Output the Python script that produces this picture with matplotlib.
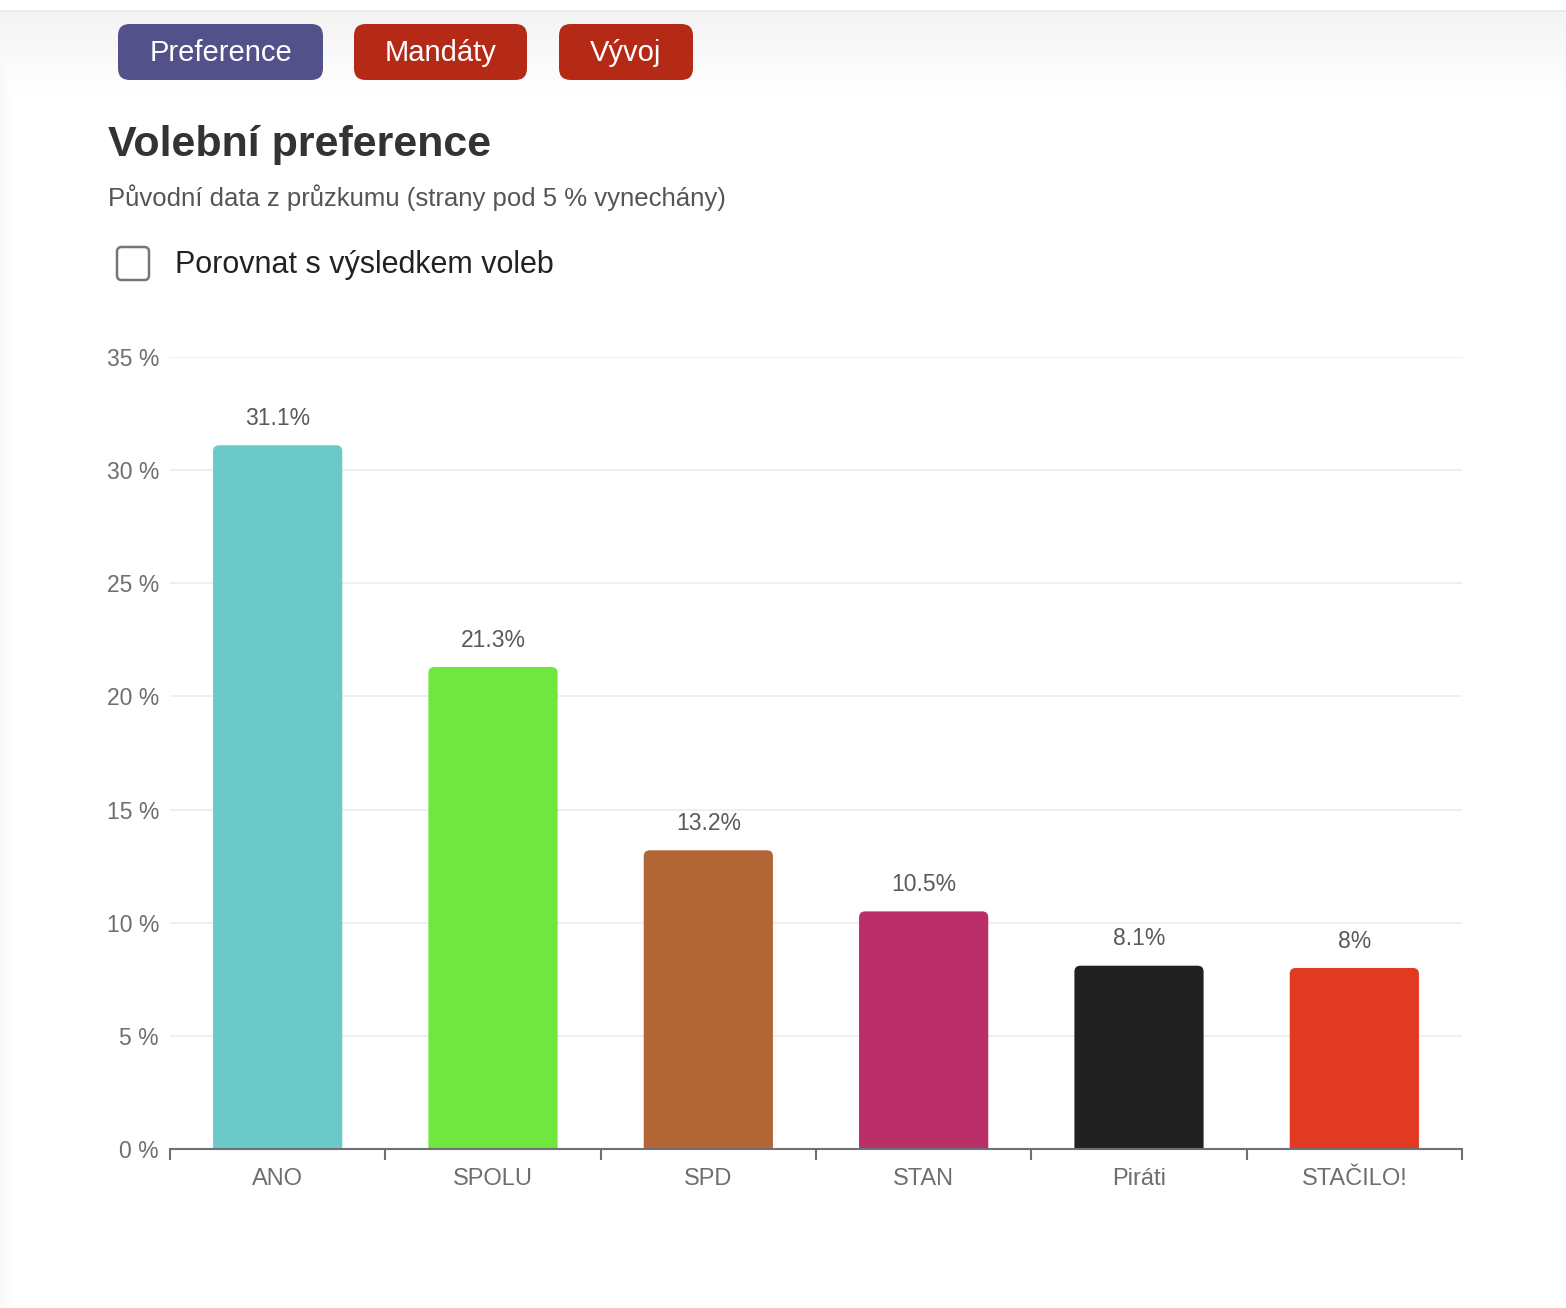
import matplotlib
matplotlib.use('Agg')
import matplotlib.pyplot as plt
import numpy as np
from matplotlib.patches import FancyBboxPatch

# Data
parties = ['ANO', 'SPOLU', 'SPD', 'STAN', 'Piráti', 'STAČILO!']
values = [31.1, 21.3, 13.2, 10.5, 8.1, 8.0]
value_labels = ['31.1%', '21.3%', '13.2%', '10.5%', '8.1%', '8%']
bar_colors = ['#6cc9c9', '#70e63e', '#b26535', '#bb2f68', '#212121', '#e03a22']
y_ticks = [0, 5, 10, 15, 20, 25, 30, 35]
y_tick_labels = [f'{t} %' for t in y_ticks]

buttons = ['Preference', 'Mandáty', 'Vývoj']
button_colors = ['#535189', '#b52a17', '#b52a17']

plt.rcParams['font.family'] = ['Liberation Sans', 'DejaVu Sans']

W, H = 1566, 1308
fig = plt.figure(figsize=(W / 100, H / 100), dpi=100)
fig.patch.set_facecolor('white')

# page background: soft gray gradient at the top and left edge
bg = fig.add_axes([0, 0, 1, 1], zorder=-10)
bg.set_axis_off()
yy = np.arange(H)[:, None]
xx = np.arange(W)[None, :]
top = np.clip((yy - 12) / 80.0, 0, 1)
left = np.clip(xx / 12.0, 0, 1) * 0.5 + 0.5
shade = np.where(yy < 11, 1.0, np.minimum(top, left))
gray = 0.955 + 0.045 * shade
img = np.dstack([gray, gray, gray])
img[10:12, :, :] = 0.925
bg.imshow(img, extent=[0, 1, 0, 1], aspect='auto', interpolation='bilinear')

def px(x, y):
    return x / W, 1 - y / H

# Buttons
btn_boxes = [(118, 323), (354, 527), (559, 693)]
for (x0, x1), lab, col in zip(btn_boxes, buttons, button_colors):
    bx, by = px(x0, 80)
    fig.patches.append(FancyBboxPatch((bx, by), (x1 - x0) / W, 56 / H,
                                      boxstyle='round,pad=0,rounding_size=0.0075',
                                      mutation_aspect=W / H,
                                      transform=fig.transFigure, facecolor=col,
                                      edgecolor='none', zorder=2))
    tx, ty = px((x0 + x1) / 2, 53)
    fig.text(tx, ty, lab, color='white', fontsize=21, ha='center', va='center', zorder=3)

# Title and subtitle
fig.text(*px(108, 145), 'Volební preference', fontsize=31, fontweight='bold',
         color='#333333', ha='left', va='center')
fig.text(*px(108, 198), 'Původní data z průzkumu (strany pod 5 % vynechány)',
         fontsize=18.5, color='#555555', ha='left', va='center')

# Checkbox
cx, cy = px(117, 280)
fig.patches.append(FancyBboxPatch((cx, cy), 32 / W, 33 / H,
                                  boxstyle='round,pad=0,rounding_size=0.003',
                                  mutation_aspect=W / H,
                                  transform=fig.transFigure, facecolor='white',
                                  edgecolor='#767676', linewidth=1.8, zorder=2))
fig.text(*px(175, 265), 'Porovnat s výsledkem voleb', fontsize=22,
         color='#222222', ha='left', va='center')

# Chart
ax = fig.add_axes([170 / W, 1 - 1149 / H, (1462 - 170) / W, (1149 - 357) / H])
ax.set_facecolor('none')
x = np.arange(len(parties))
bars = ax.bar(x, values, width=0.6, color=bar_colors, zorder=3)

# rounded top corners (~6 px): draw each bar again as a rounded box
px_per_x = (1462 - 170) / len(parties)
px_per_y = (1149 - 357) / 35
r = 6 / px_per_x
aspect = (6 / px_per_y) / r
for b in bars:
    b.set_visible(False)
    ax.add_patch(FancyBboxPatch((b.get_x(), -2), b.get_width(), b.get_height() + 2,
                                boxstyle=f'round,pad=0,rounding_size={r}',
                                mutation_aspect=aspect, facecolor=b.get_facecolor(),
                                edgecolor='none', zorder=3))

for xi, v, lab in zip(x, values, value_labels):
    ax.annotate(lab, (xi, v), xytext=(0, 11), textcoords='offset points',
                ha='center', va='bottom', fontsize=16.5, color='#5a5a5a')

ax.set_xlim(-0.5, len(parties) - 0.5)
ax.set_ylim(0, 35)
ax.set_yticks(y_ticks)
ax.set_yticklabels(y_tick_labels)
ax.set_xticks(x)
ax.set_xticklabels(parties)
ax.set_xticks([i - 0.5 for i in range(len(parties) + 1)], minor=True)
ax.tick_params(axis='x', which='major', length=0, pad=14, labelsize=17, labelcolor='#6e6e6e')
ax.tick_params(axis='x', which='minor', length=8, width=1.5, color='#6e7079')
ax.tick_params(axis='y', length=0, pad=8, labelsize=16.5, labelcolor='#6e6e6e')
ax.grid(axis='y', color='#ececec', linewidth=1.2, zorder=0)
for s in ['top', 'right', 'left']:
    ax.spines[s].set_visible(False)
ax.spines['bottom'].set_color('#6e7079')
ax.spines['bottom'].set_linewidth(1.5)
ax.spines['bottom'].set_zorder(4)

fig.savefig('out.png', dpi=100, facecolor='white')
